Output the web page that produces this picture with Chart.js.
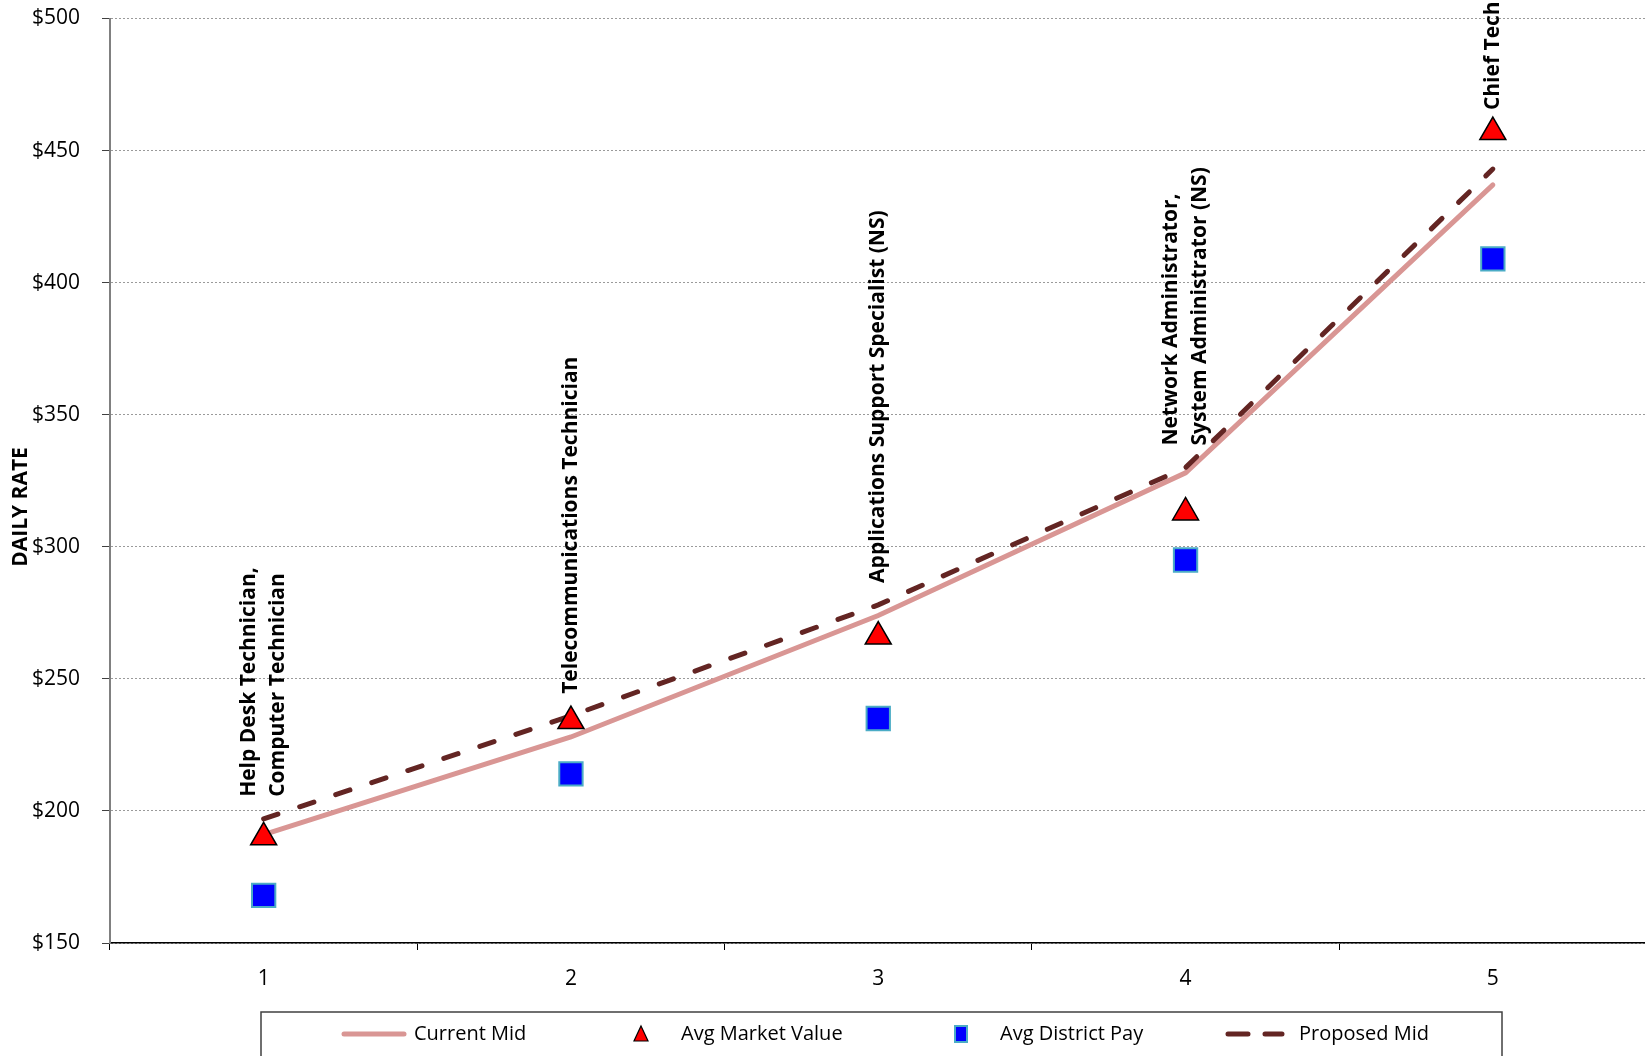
<!DOCTYPE html>
<html>
<head>
<meta charset="utf-8">
<script src="https://cdn.jsdelivr.net/npm/chart.js@4.4.1/dist/chart.umd.min.js"></script>
<style>
  html, body { margin: 0; padding: 0; background: #fff; overflow: hidden; }
  canvas { display: block; }
</style>
</head>
<body>
<canvas id="chart" width="1665" height="1056"></canvas>
<script>
// chart values
var categories = ['1', '2', '3', '4', '5'];
var jobTitles = [
  ['Help Desk Technician,', 'Computer Technician'],
  ['Telecommunications Technician'],
  ['Applications Support Specialist (NS)'],
  ['Network Administrator,', 'System Administrator (NS)'],
  ['Chief Technology Officer']
];
var currentMid = [191, 228, 274, 328, 437];
var avgMarketValue = [190, 234, 266, 313, 457];
var avgDistrictPay = [168, 214, 235, 295, 409];
var proposedMid = [197, 236, 278, 330, 443];
var yMin = 150, yMax = 500, yStep = 50;

var FONT = '"Open Sans", "DejaVu Sans", sans-serif';

// job titles above the points, y axis title and the boxed legend
var extras = {
  id: 'extras',
  afterDatasetsDraw: function(chart) {
    var ctx = chart.ctx;
    var xs = chart.scales.x, ys = chart.scales.y;
    var sets = chart.data.datasets;

    ctx.save();
    ctx.fillStyle = '#000';
    ctx.font = 'bold 21px ' + FONT;
    ctx.textAlign = 'left';
    ctx.textBaseline = 'middle';
    jobTitles.forEach(function(lines, i) {
      var top = Math.max.apply(null, sets.map(function(d) { return d.data[i]; }));
      ctx.save();
      ctx.translate(xs.getPixelForValue(i), ys.getPixelForValue(top) - 22);
      ctx.rotate(-Math.PI / 2);
      lines.forEach(function(t, k) {
        ctx.fillText(t, 0, (k - (lines.length - 1) / 2) * 29);
      });
      ctx.restore();
    });

    // y axis title
    ctx.save();
    ctx.translate(21, 507);
    ctx.rotate(-Math.PI / 2);
    ctx.textAlign = 'center';
    ctx.fillText('DAILY RATE', 0, 0);
    ctx.restore();

    // legend
    var ly = 1034;
    ctx.lineWidth = 1.5;
    ctx.strokeStyle = '#404040';
    ctx.strokeRect(261, 1012, 1241, 70);
    ctx.font = '20px ' + FONT;
    var items = [
      {x: 341, w: 66, tx: 414},
      {x: 641, tx: 681},
      {x: 961, tx: 1000},
      {x: 1225, w: 60, tx: 1299}
    ];
    items.forEach(function(it, i) {
      var d = sets[i];
      ctx.save();
      if (d.showLine === false && d.pointStyle === 'triangle') {
        ctx.beginPath();
        ctx.moveTo(it.x, ly - 8);
        ctx.lineTo(it.x + 7, ly + 7);
        ctx.lineTo(it.x - 7, ly + 7);
        ctx.closePath();
        ctx.fillStyle = d.pointBackgroundColor;
        ctx.fill();
        ctx.lineWidth = 1.2;
        ctx.strokeStyle = d.pointBorderColor;
        ctx.stroke();
      } else if (d.showLine === false) {
        ctx.fillStyle = d.pointBorderColor;
        ctx.fillRect(it.x - 7, ly - 9, 14, 18);
        ctx.fillStyle = d.pointBackgroundColor;
        ctx.fillRect(it.x - 5, ly - 7, 10, 14);
      } else {
        ctx.beginPath();
        ctx.lineCap = 'round';
        ctx.lineWidth = d.borderWidth;
        ctx.strokeStyle = d.borderColor;
        if (d.borderDash) ctx.setLineDash([20, 17]);
        ctx.moveTo(it.x + 3, ly);
        ctx.lineTo(it.x + it.w - 3, ly);
        ctx.stroke();
      }
      ctx.restore();
      ctx.fillStyle = '#000';
      ctx.textAlign = 'left';
      ctx.fillText(d.label, it.tx, ly);
    });
    ctx.restore();
  }
};

var ctx1 = document.getElementById('chart');
var myChart = new Chart(ctx1, {
  type: 'line',
  data: {
    labels: categories,
    datasets: [{
      label: 'Current Mid',
      data: currentMid,
      borderColor: '#d99694',
      borderWidth: 5,
      borderCapStyle: 'round',
      pointRadius: 0,
      tension: 0,
      order: 3
    }, {
      label: 'Avg Market Value',
      data: avgMarketValue,
      showLine: false,
      pointStyle: 'triangle',
      pointRadius: 15,
      pointBackgroundColor: '#ff0000',
      pointBorderColor: '#000000',
      pointBorderWidth: 1.5,
      order: 0
    }, {
      label: 'Avg District Pay',
      data: avgDistrictPay,
      showLine: false,
      pointStyle: 'rect',
      pointRadius: 16.5,
      pointBackgroundColor: '#0000ff',
      pointBorderColor: '#4bacc6',
      pointBorderWidth: 2,
      order: 1
    }, {
      label: 'Proposed Mid',
      data: proposedMid,
      borderColor: '#632523',
      borderWidth: 5,
      borderDash: [15, 23],
      borderCapStyle: 'round',
      pointRadius: 0,
      tension: 0,
      order: 2
    }]
  },
  options: {
    responsive: false,
    animation: false,
    devicePixelRatio: 1,
    layout: { padding: { top: 17, right: 2, left: 0, bottom: 0 } },
    plugins: {
      legend: { display: false },
      tooltip: { enabled: false }
    },
    scales: {
      x: {
        type: 'category',
        offset: true,
        grid: { offset: true, drawOnChartArea: false, tickLength: 7, tickColor: '#000', tickWidth: 1 },
        border: { color: '#000', width: 1.5 },
        ticks: { color: '#000', font: { family: FONT, size: 21 }, padding: 16 },
        afterFit: function(s) { s.height = 113; }
      },
      y: {
        min: yMin,
        max: yMax,
        ticks: {
          stepSize: yStep,
          color: '#000',
          font: { family: FONT, size: 21 },
          padding: 22,
          callback: function(v) { return '$' + v; }
        },
        grid: { color: '#9a9a9a', lineWidth: 1, tickLength: 8, tickColor: '#404040', tickBorderDash: [] },
        border: { color: '#808080', width: 2, dash: [2, 2] },
        afterFit: function(s) { s.width = 110; s.paddingTop = 0; s.paddingBottom = 0; }
      }
    }
  },
  plugins: [extras]
});
</script>
</body>
</html>
